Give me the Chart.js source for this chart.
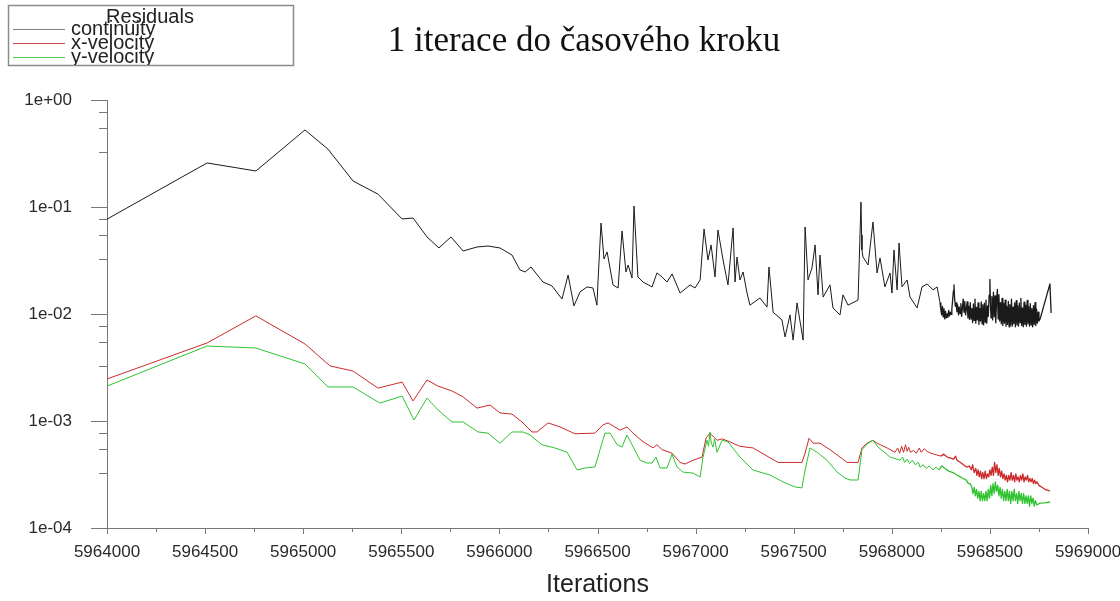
<!DOCTYPE html>
<html><head><meta charset="utf-8">
<script src="https://cdn.jsdelivr.net/npm/chart.js@4.4.1/dist/chart.umd.min.js"></script>
<style>html,body{margin:0;padding:0;background:#fff;} #wrap{width:1120px;height:601px;position:relative;}</style>
</head><body><div id="wrap"><canvas id="c" width="1120" height="601"></canvas></div>
<script>
const chartTitle = '1 iterace do časového kroku';
const legendTitle = 'Residuals';
const seriesNames = ['continuity', 'x-velocity', 'y-velocity'];
const xAxisTitle = 'Iterations';
const xMin = 5964000, xMax = 5969000, xStep = 500, xMinorStep = 250;
const yTickValues = [1e-4, 1e-3, 1e-2, 1e-1, 1];

const continuity = [
[5964000,0.077],[5964510,0.258],[5964759,0.217],[5965009,0.525],[5965126,0.348],[5965254,0.175],[5965381,0.132],
[5965504,0.0773],[5965560,0.0789],[5965631,0.0525],[5965692,0.0414],[5965753,0.0525],[5965815,0.0388],[5965886,0.0423],
[5965942,0.0432],[5966003,0.0414],[5966064,0.0356],[5966105,0.0258],[5966131,0.0247],[5966161,0.0275],[5966222,0.0199],
[5966268,0.0183],[5966319,0.0138],[5966350,0.0231],[5966380,0.0119],[5966411,0.0161],[5966447,0.0179],[5966477,0.0175],
[5966497,0.0121],[5966503,0.0208],[5966518,0.0708],[5966533,0.0327],[5966549,0.038],[5966579,0.0187],[5966605,0.0175],
[5966625,0.0597],[5966645,0.0247],[5966656,0.0287],[5966676,0.0217],[5966686,0.102],[5966706,0.0222],[5966732,0.0199],
[5966778,0.0179],[5966803,0.0242],[5966829,0.0222],[5966854,0.0199],[5966880,0.0237],[5966921,0.0157],[5966972,0.0187],
[5966997,0.0175],[5967023,0.0208],[5967043,0.0623],[5967063,0.032],[5967079,0.0442],[5967099,0.0222],[5967114,0.061],
[5967140,0.032],[5967165,0.0187],[5967191,0.0637],[5967201,0.0199],[5967211,0.0341],[5967226,0.0208],[5967242,0.0247],
[5967262,0.0157],[5967277,0.0121],[5967328,0.0141],[5967364,0.0116],[5967374,0.0275],[5967395,0.0104],[5967440,0.0088],
[5967456,0.0061],[5967481,0.0098],[5967497,0.0057],[5967517,0.0127],[5967548,0.0057],[5967558,0.065],[5967573,0.0208],
[5967593,0.0269],[5967609,0.0442],[5967624,0.0151],[5967634,0.0356],[5967650,0.0144],[5967685,0.0187],[5967700,0.0114],
[5967736,0.0098],[5967751,0.0151],[5967777,0.0121],[5967828,0.0135],[5967843,0.111],[5967846,0.055],[5967848,0.0397],
[5967853,0.0341],[5967879,0.0287],[5967904,0.0724],[5967925,0.0242],[5967940,0.0334],[5967965,0.0179],[5967991,0.0242],
[5968001,0.0157],[5968011,0.0397],[5968027,0.0168],[5968037,0.0461],[5968052,0.0179],[5968078,0.0208],[5968093,0.0144],
[5968129,0.0114],[5968154,0.0179],[5968180,0.0191],[5968210,0.0168],[5968231,0.0179],[5968246,0.0127],
[5968250,0.0110],[5968254,0.0098],[5968258,0.0118],[5968262,0.0094],[5968266,0.0112],[5968270,0.0090],[5968274,0.0106],
[5968278,0.0092],[5968282,0.0100],[5968286,0.0093],[5968290,0.0108],[5968294,0.0096],[5968298,0.0104],[5968302,0.0099],
[5968306,0.0110],[5968310,0.0135],[5968314,0.0165],[5968317,0.0187],[5968320,0.0140],[5968324,0.0118],[5968328,0.0127],
[5968332,0.0105],[5968336,0.0121],[5968340,0.0098],[5968344,0.0116],[5968348,0.0101],[5968352,0.0125],[5968356,0.0095],
[5968360,0.0114],[5968364,0.0138],[5968368,0.0104],[5968372,0.0131],[5968376,0.0098],[5968380,0.0112],[5968384,0.0130],
[5968388,0.0092],[5968392,0.0118],[5968396,0.0089],[5968400,0.0128],[5968404,0.0090],[5968408,0.0112],[5968412,0.0083],
[5968416,0.0124],[5968420,0.0087],[5968424,0.0138],[5968428,0.0082],[5968432,0.0115],[5968436,0.0088],[5968440,0.0127],
[5968444,0.0080],[5968448,0.0112],[5968452,0.0086],[5968456,0.0130],[5968460,0.0081],[5968464,0.0122],[5968468,0.0079],
[5968472,0.0126],[5968476,0.0084],[5968480,0.0135],[5968484,0.0082],[5968488,0.0119],[5968492,0.0095],[5968496,0.0150],
[5968500,0.0210],[5968503,0.0120],[5968506,0.0092],[5968510,0.0145],[5968514,0.0088],[5968518,0.0160],[5968522,0.0094],
[5968526,0.0148],[5968530,0.0083],[5968534,0.0132],[5968538,0.0170],[5968542,0.0090],[5968546,0.0152],[5968550,0.0086],
[5968554,0.0128],[5968558,0.0081],[5968562,0.0140],[5968566,0.0078],[5968570,0.0126],[5968574,0.0082],[5968578,0.0135],
[5968582,0.0077],[5968586,0.0118],[5968590,0.0080],[5968594,0.0131],[5968598,0.0076],[5968602,0.0122],[5968606,0.0079],
[5968610,0.0138],[5968614,0.0077],[5968618,0.0116],[5968622,0.0081],[5968626,0.0127],[5968630,0.0076],[5968634,0.0133],
[5968638,0.0079],[5968642,0.0119],[5968646,0.0077],[5968650,0.0126],[5968654,0.0083],[5968658,0.0140],[5968662,0.0078],
[5968666,0.0114],[5968670,0.0076],[5968674,0.0129],[5968678,0.0080],[5968682,0.0121],[5968686,0.0077],[5968690,0.0134],
[5968694,0.0081],[5968698,0.0117],[5968702,0.0077],[5968706,0.0125],[5968710,0.0079],[5968714,0.0112],[5968718,0.0076],
[5968722,0.0120],[5968726,0.0080],[5968730,0.0128],[5968734,0.0078],[5968738,0.0111],[5968742,0.0082],[5968746,0.0104],
[5968750,0.0086],[5968756,0.0090],[5968806,0.0191],[5968812,0.0102]
];

const xVelocity = [
[5964000,0.00247],[5964510,0.00536],[5964759,0.0096],[5965009,0.00525],[5965137,0.00327],[5965254,0.00293],[5965381,0.00203],
[5965504,0.00231],[5965560,0.00154],[5965631,0.00242],[5965687,0.00212],[5965758,0.00191],[5965815,0.00168],[5965886,0.00132],
[5965952,0.00141],[5966003,0.00119],[5966064,0.00116],[5966115,0.00098],[5966166,0.00079],[5966192,0.00079],[5966248,0.00096],
[5966309,0.00088],[5966385,0.00076],[5966487,0.00077],[5966528,0.00092],[5966554,0.00096],[5966615,0.00082],[5966650,0.00088],
[5966681,0.00077],[5966732,0.00064],[5966783,0.00056],[5966803,0.0006],[5966829,0.00054],[5966880,0.0005],[5966921,0.00041],
[5966946,0.000396],[5966987,0.00043],[5967033,0.00046],[5967053,0.00069],[5967073,0.00077],[5967109,0.00066],[5967135,0.00068],
[5967165,0.00065],[5967226,0.00058],[5967293,0.00056],[5967364,0.00047],[5967420,0.00041],[5967481,0.00041],[5967542,0.00041],
[5967558,0.0005],[5967578,0.00069],[5967599,0.00062],[5967634,0.00062],[5967685,0.00054],[5967736,0.00046],[5967772,0.00041],
[5967828,0.00041],[5967848,0.00056],[5967874,0.00062],[5967904,0.00066],[5967925,0.00062],[5967976,0.00056],
[5968016,0.00051],[5968030,0.00056],[5968040,0.00050],[5968050,0.00058],[5968060,0.00051],[5968070,0.00060],[5968078,0.00052],
[5968086,0.00057],[5968095,0.00051],[5968110,0.00053],[5968125,0.00050],[5968140,0.00056],[5968150,0.00051],[5968165,0.00055],
[5968180,0.00052],[5968200,0.00050],[5968215,0.00049],[5968231,0.00048],[5968250,0.00047],[5968265,0.00049],[5968282,0.00046],
[5968300,0.00045],[5968315,0.00044],[5968325,0.00047],[5968332,0.00043],[5968350,0.00041],[5968365,0.00039],[5968383,0.00037],
[5968395,0.00038],[5968405,0.00035],[5968412,0.00039],[5968420,0.00033],[5968428,0.00036],[5968434,0.00031],[5968440,0.00035],
[5968446,0.00030],[5968452,0.00034],[5968458,0.00029],[5968464,0.00033],[5968470,0.00029],[5968476,0.00034],[5968482,0.00029],
[5968488,0.00032],[5968494,0.00030],[5968500,0.00035],[5968506,0.00031],[5968512,0.00037],[5968518,0.00031],[5968524,0.00041],
[5968530,0.00033],[5968536,0.00039],[5968542,0.00031],[5968548,0.00036],[5968554,0.00030],[5968560,0.00034],[5968566,0.00029],
[5968572,0.00032],[5968578,0.00028],[5968584,0.00031],[5968590,0.00027],[5968596,0.00031],[5968602,0.00028],[5968608,0.00033],
[5968614,0.00028],[5968620,0.00031],[5968626,0.00027],[5968632,0.00032],[5968638,0.00028],[5968644,0.00030],[5968650,0.00027],
[5968656,0.00031],[5968662,0.00028],[5968668,0.00032],[5968674,0.00027],[5968680,0.00030],[5968686,0.00028],[5968692,0.00031],
[5968698,0.00027],[5968704,0.00029],[5968710,0.00027],[5968716,0.00029],[5968722,0.00026],[5968728,0.00028],[5968734,0.00026],
[5968740,0.00027],[5968750,0.00025],[5968765,0.00024],[5968780,0.00023],[5968806,0.000222]
];

const yVelocity = [
[5964000,0.00212],[5964510,0.00502],[5964759,0.00481],[5965009,0.00341],[5965126,0.00208],[5965254,0.00208],[5965391,0.00147],
[5965504,0.00171],[5965565,0.00102],[5965631,0.00164],[5965687,0.00127],[5965758,0.00098],[5965815,0.00098],[5965891,0.00079],
[5965942,0.00077],[5966003,0.00062],[5966064,0.00079],[5966120,0.00079],[5966156,0.00074],[5966217,0.0006],[5966283,0.00056],
[5966345,0.00051],[5966396,0.000348],[5966436,0.000364],[5966487,0.000372],[5966513,0.00054],[5966538,0.00077],[5966564,0.00077],
[5966600,0.0006],[5966625,0.00057],[5966650,0.00074],[5966676,0.0006],[5966717,0.00043],[5966752,0.000405],[5966778,0.000405],
[5966798,0.00046],[5966819,0.000364],[5966854,0.000364],[5966880,0.00049],[5966905,0.000372],[5966936,0.000333],[5966987,0.000326],
[5967023,0.0003],[5967038,0.00046],[5967058,0.00066],[5967066,0.00058],[5967073,0.00079],[5967080,0.00062],[5967089,0.00057],
[5967097,0.00068],[5967109,0.00051],[5967135,0.00066],[5967165,0.00064],[5967226,0.00046],[5967293,0.000348],[5967379,0.000313],
[5967446,0.000269],[5967507,0.000242],[5967542,0.000237],[5967558,0.000348],[5967583,0.00056],[5967619,0.00051],[5967670,0.00043],
[5967721,0.000333],[5967762,0.000293],[5967787,0.000281],[5967828,0.000281],[5967848,0.00054],[5967879,0.00062],[5967904,0.00066],
[5967930,0.00057],[5967991,0.00046],
[5968042,0.00043],[5968055,0.00046],[5968065,0.00041],[5968078,0.00044],[5968090,0.00040],[5968105,0.00043],[5968120,0.00039],
[5968135,0.00041],[5968144,0.00037],[5968160,0.00039],[5968175,0.00036],[5968190,0.00038],[5968210,0.00035],[5968225,0.00037],
[5968240,0.00035],[5968255,0.00038],[5968271,0.00036],[5968290,0.00034],[5968312,0.00033],[5968335,0.00031],[5968350,0.00030],
[5968363,0.00029],[5968380,0.00028],[5968390,0.00026],[5968399,0.00026],[5968408,0.00024],[5968414,0.00021],[5968420,0.00024],
[5968426,0.00020],[5968432,0.00023],[5968438,0.00019],[5968444,0.00022],[5968450,0.00018],[5968456,0.00022],[5968462,0.00018],
[5968468,0.00021],[5968474,0.00018],[5968480,0.00022],[5968486,0.00018],[5968492,0.00023],[5968498,0.00019],[5968504,0.00025],
[5968510,0.00020],[5968516,0.00026],[5968522,0.00021],[5968528,0.00027],[5968534,0.00022],[5968540,0.00025],[5968546,0.00020],
[5968552,0.00024],[5968558,0.00019],[5968564,0.00023],[5968570,0.00018],[5968576,0.00022],[5968582,0.00018],[5968588,0.00023],
[5968594,0.00018],[5968600,0.00022],[5968606,0.00017],[5968612,0.00022],[5968618,0.00018],[5968624,0.00023],[5968630,0.00018],
[5968636,0.00021],[5968642,0.00017],[5968648,0.00022],[5968654,0.00018],[5968660,0.00021],[5968666,0.00017],[5968672,0.00021],
[5968678,0.00017],[5968684,0.00020],[5968690,0.00017],[5968696,0.00020],[5968702,0.00016],[5968708,0.00020],[5968714,0.00017],
[5968720,0.00019],[5968726,0.00016],[5968732,0.00018],[5968740,0.000164],[5968755,0.000171],[5968780,0.000172],[5968806,0.000175]
];

const seriesColors = ['#1a1a1a', '#cc2a2a', '#2fc22f'];
const legendLineColors = ['#808080', '#d04040', '#50c850'];
const yMinorFactors = [0.766, 0.55, 0.33];
const denseFrom = 5968240;
const FONT = "'Liberation Sans', Arial, sans-serif";

Chart.defaults.font.family = FONT;

function fmtExp(v) {
  const e = Math.round(Math.log10(v));
  const a = Math.abs(e);
  return '1e' + (e < 0 ? '-' : '+') + (a < 10 ? '0' : '') + a;
}

const decorPlugin = {
  id: 'decor',
  afterDraw(chart) {
    const ctx = chart.ctx, xs = chart.scales.x, ys = chart.scales.y;
    const left = chart.chartArea.left, bottom = chart.chartArea.bottom;
    ctx.save();
    ctx.strokeStyle = '#777'; ctx.lineWidth = 1;
    ctx.beginPath();
    yTickValues.forEach((v, i) => {
      const py = Math.round(ys.getPixelForValue(v)) + 0.5;
      ctx.moveTo(left - 16, py); ctx.lineTo(left, py);
      if (i > 0) yMinorFactors.forEach(f => {
        const p = Math.round(ys.getPixelForValue(v * f)) + 0.5;
        ctx.moveTo(left - 8, p); ctx.lineTo(left, p);
      });
    });
    for (let v = xMin; v <= xMax; v += xMinorStep) {
      const px = Math.round(xs.getPixelForValue(v)) + 0.5;
      const len = (v - xMin) % xStep === 0 ? 6 : 4;
      ctx.moveTo(px, bottom); ctx.lineTo(px, bottom + len);
    }
    ctx.stroke();
    ctx.fillStyle = '#111';
    ctx.font = "35px 'Liberation Serif', 'Times New Roman', serif";
    ctx.textAlign = 'center'; ctx.textBaseline = 'alphabetic';
    ctx.fillText(chartTitle, 584, 51);
    ctx.beginPath();
    ctx.rect(8.5, 5.5, 285, 60);
    ctx.strokeStyle = '#8c8c8c'; ctx.lineWidth = 1.5; ctx.stroke();
    ctx.save();
    ctx.beginPath(); ctx.rect(9, 6, 284, 59); ctx.clip();
    ctx.fillStyle = '#222';
    ctx.font = '20px ' + FONT;
    ctx.textAlign = 'center';
    ctx.fillText(legendTitle, 150, 23);
    ctx.textAlign = 'left';
    const ys0 = [29, 43, 57];
    chart.data.datasets.forEach((ds, i) => {
      ctx.strokeStyle = legendLineColors[i]; ctx.lineWidth = 1;
      ctx.beginPath(); ctx.moveTo(13, ys0[i] + 0.5); ctx.lineTo(65, ys0[i] + 0.5); ctx.stroke();
      ctx.fillStyle = '#222';
      ctx.fillText(ds.label, 71, ys0[i] + 6);
    });
    ctx.restore();
    ctx.restore();
  }
};

const denseWidth = c => (c.p0.parsed.x >= denseFrom ? 1.3 : 1);

new Chart(document.getElementById('c'), {
  type: 'line',
  data: {
    datasets: [
      { label: seriesNames[0], data: continuity.map(([x, y]) => ({x, y})), borderColor: seriesColors[0], order: 2, segment: { borderWidth: denseWidth } },
      { label: seriesNames[1], data: xVelocity.map(([x, y]) => ({x, y})), borderColor: seriesColors[1], order: 1, segment: { borderWidth: denseWidth } },
      { label: seriesNames[2], data: yVelocity.map(([x, y]) => ({x, y})), borderColor: seriesColors[2], order: 0, segment: { borderWidth: denseWidth } }
    ]
  },
  options: {
    responsive: false,
    animation: false,
    devicePixelRatio: 1,
    layout: { padding: { top: 100, right: 32, left: 0, bottom: 0 } },
    elements: {
      point: { radius: 0, hoverRadius: 0 },
      line: { borderWidth: 1, tension: 0, borderJoinStyle: 'round', fill: false }
    },
    plugins: { legend: { display: false }, title: { display: false }, tooltip: { enabled: false } },
    scales: {
      x: {
        type: 'linear', min: xMin, max: xMax,
        afterFit(s) { s.height = 73; s.paddingLeft = 0; s.paddingRight = 0; },
        grid: { display: false, drawTicks: false, tickLength: 0 },
        border: { display: true, color: '#777', width: 1 },
        ticks: { stepSize: xStep, autoSkip: false, maxRotation: 0, padding: 14, color: '#2a2a2a',
                 font: { size: 17 }, callback: v => String(v) },
        title: { display: true, text: xAxisTitle, color: '#222', font: { size: 25 }, padding: { top: 0, bottom: 1 } }
      },
      y: {
        type: 'logarithmic', min: 1e-4, max: 1,
        afterFit(s) { s.width = 107; s.paddingTop = 0; s.paddingBottom = 0; },
        afterBuildTicks(s) { s.ticks = yTickValues.map(v => ({ value: v })); },
        grid: { display: false, drawTicks: false, tickLength: 0 },
        border: { display: true, color: '#777', width: 1 },
        ticks: { padding: 35, color: '#2a2a2a', font: { size: 17 }, callback: v => fmtExp(v) }
      }
    }
  },
  plugins: [decorPlugin]
});
</script>
</body></html>
